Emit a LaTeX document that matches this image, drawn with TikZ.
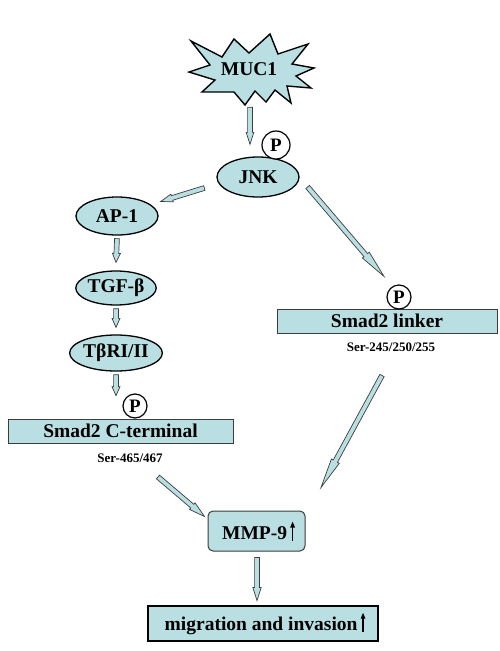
\documentclass[tikz,border=0pt]{standalone}
\usepackage{fontspec}
\setmainfont{Liberation Serif}
\usetikzlibrary{calc,shapes.geometric,arrows.meta}
\definecolor{cyanfill}{RGB}{185,223,226}
\definecolor{edgegray}{RGB}{60,60,60}
\tikzset{
  lbl/.style={font=\bfseries\fontsize{19.5}{22}\selectfont, inner sep=0pt},
  small/.style={font=\bfseries\fontsize{13}{15}\selectfont, inner sep=0pt},
  oval/.style={ellipse, draw=black, line width=1.3pt, fill=cyanfill, lbl},
  pcirc/.style={circle, draw=black, line width=1.2pt, fill=white, inner sep=0pt, font=\bfseries\fontsize{19}{21}\selectfont},
  bar/.style={rectangle, draw=edgegray, line width=1pt, fill=cyanfill, lbl},
  barrow/.style={draw=edgegray, line width=0.7pt, fill=cyanfill, line join=miter}
}
\newcommand{\blockarr}[4]{%
  \coordinate (bS) at #3;
  \coordinate (bE) at #4;
  \coordinate (bB) at ($(bE)!#1!(bS)$);
  \filldraw[barrow] ($(bS)!2.4pt!90:(bE)$) -- ($(bB)!2.4pt!90:(bE)$) -- ($(bB)!#2!90:(bE)$) -- (bE) -- ($(bB)!#2!-90:(bE)$) -- ($(bB)!2.4pt!-90:(bE)$) -- ($(bS)!2.4pt!-90:(bE)$) -- cycle;}
\newcommand{\uparr}{\tikz[baseline=0pt]\draw[line width=1.3pt,-{Triangle[length=6pt,width=4.5pt]}] (0pt,-1pt)--(0pt,18pt);}
\begin{document}
\begin{tikzpicture}[x=1pt,y=-1pt]
\useasboundingbox[fill=white] (0,0) rectangle (500,651);

% MUC1 star
\node[inner sep=0pt, minimum width=120pt, minimum height=70pt] (muc) at (249,69) {};
\begin{scope}[shift={(muc.center)}]
\filldraw[draw=black, line width=1.4pt, fill=cyanfill, line join=miter]
 (-58,-28) -- (-27,-12) -- (-15,-30) -- (0,-16) -- (21,-35) -- (29,-15) -- (59,-25) -- (43,-5)
 -- (65,-1) -- (47,7) -- (62,19) -- (38,17) -- (42,34) -- (26,21) -- (17,33) -- (6,22)
 -- (-4,36) -- (-15,23) -- (-47,23) -- (-34,11) -- (-60,3) -- (-39,-4) -- cycle;
\end{scope}
\node[lbl] (muctext) at (249,69) {MUC1};

% nodes
\node[oval, minimum width=82pt, minimum height=40pt] (jnk) at (258,177) {JNK};
\node[pcirc, minimum size=28pt] (pj) at (276,145) {P};
\node[oval, minimum width=82pt, minimum height=38pt] (ap1) at (117,216) {AP-1};
\node[oval, minimum width=80pt, minimum height=34pt] (tgf) at (116,288) {TGF-β};
\node[oval, minimum width=80pt, minimum height=36pt] (tbr) at (116,353) {TβRI/II};
\node[bar, minimum width=225pt, minimum height=24pt] (smc) at (120.5,431) {Smad2 C-terminal};
\node[pcirc, minimum size=24pt] (pc) at (135,406) {P};
\node[small] (serc) at (130,458) {Ser-465/467};
\node[bar, minimum width=220pt, minimum height=24pt] (sml) at (387,321) {Smad2 linker};
\node[pcirc, minimum size=24pt] (pl) at (399,297) {P};
\node[small] (serl) at (391,347) {Ser-245/250/255};
\node[bar, rounded corners=5pt, minimum width=97pt, minimum height=40pt] (mmp) at (256.5,531) {\hspace*{4pt}MMP-9\,\uparr};
\node[bar, line width=2pt, draw=black, minimum width=230pt, minimum height=35pt] (mig) at (263,623.5) {\hspace*{4pt}migration and invasion\,\uparr};

% block arrows
\blockarr{12pt}{3.8pt}{($(muc.south)+(1,3)$)}{($(jnk.north)+(-8,-12)$)}
\blockarr{12pt}{4pt}{($(jnk.west)+(-12,11)$)}{($(ap1.east)+(2,-14.5)$)}
\blockarr{9pt}{4pt}{($(ap1.south)+(0,3)$)}{($(tgf.north)+(0,-8)$)}
\blockarr{9pt}{4pt}{($(tgf.south)+(0,3)$)}{($(tbr.north)+(0,-7)$)}
\blockarr{9pt}{4pt}{($(tbr.south)+(0,3)$)}{($(tbr.south)+(0,24)$)}
\blockarr{28pt}{4.5pt}{($(jnk.east)+(8,10)$)}{($(pl.north)+(-15,-8)$)}
\blockarr{30pt}{4.5pt}{($(sml.south)+(-5,42)$)}{($(mmp.north east)+(15.5,-23)$)}
\blockarr{16pt}{4.3pt}{($(serc)+(28,19)$)}{($(mmp.north west)+(-3,6)$)}
\blockarr{13pt}{4.2pt}{($(mmp.south)+(0.5,6)$)}{($(mig.north)+(-6,-4.5)$)}
\end{tikzpicture}
\end{document}
